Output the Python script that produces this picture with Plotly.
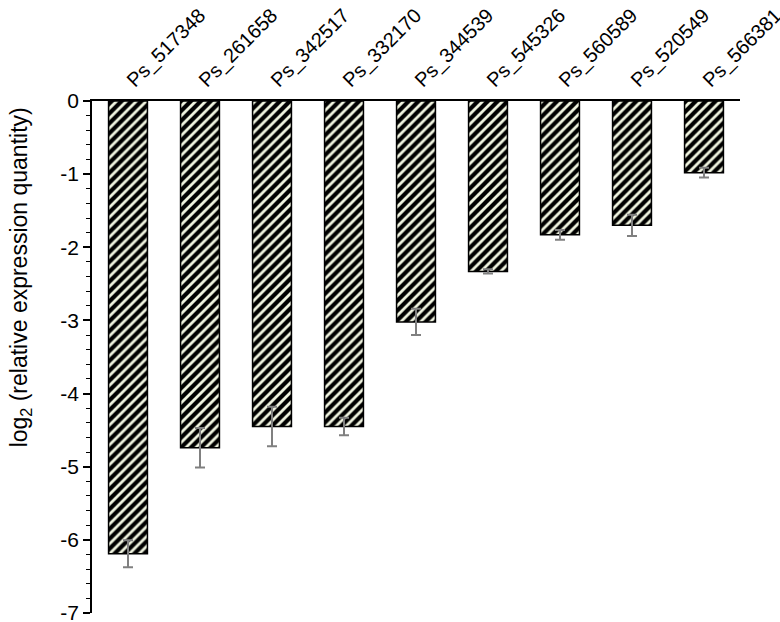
"""Down-regulated genes: log2 relative expression, hatched bars hanging from zero."""

import plotly.graph_objects as go

genes = ["Ps_517348", "Ps_261658", "Ps_342517", "Ps_332170", "Ps_344539",
         "Ps_545326", "Ps_560589", "Ps_520549", "Ps_566381"]
log2_rq = [-6.19, -4.74, -4.45, -4.45, -3.02, -2.33, -1.83, -1.70, -0.98]
err = [0.185, 0.27, 0.27, 0.12, 0.18, 0.03, 0.066, 0.146, 0.066]

y_ticks = [0, -1, -2, -3, -4, -5, -6, -7]
y_tick_labels = ["0", "-1", "-2", "-3", "-4", "-5", "-6", "-7"]

font = "Liberation Sans, Arial, sans-serif"

fig = go.Figure()

fig.add_trace(
    go.Bar(
        x=genes,
        y=log2_rq,
        marker=dict(
            color="#f0f4e0",
            line=dict(color="black", width=1.5),
            pattern=dict(shape="/", fgcolor="black", bgcolor="#f0f4e0",
                         size=7, solidity=0.6, fgopacity=1),
        ),
        error_y=dict(type="data", array=err, visible=True,
                     color="#808080", thickness=2, width=5),
        showlegend=False,
    )
)

fig.update_layout(
    width=780,
    height=622,
    plot_bgcolor="white",
    paper_bgcolor="white",
    bargap=0.46,
    margin=dict(l=92, r=40, t=101, b=9, autoexpand=False),
    font=dict(family=font, size=21, color="black"),
)

fig.update_xaxes(
    side="top",
    tickangle=-45,
    automargin=False,
    ticklabeloverflow="allow",
    showline=True,
    linecolor="black",
    linewidth=1.5,
    ticks="",
    showgrid=False,
    tickfont=dict(size=20),
)

fig.update_yaxes(
    range=[-7, 0],
    automargin=False,
    ticklabeloverflow="allow",
    tickmode="array",
    tickvals=y_ticks,
    ticktext=y_tick_labels,
    showline=True,
    linecolor="black",
    linewidth=1.5,
    ticks="outside",
    ticklen=7,
    tickwidth=1.5,
    tickcolor="black",
    tickfont=dict(size=21),
    minor=dict(dtick=0.2, ticks="outside", ticklen=4, tickcolor="black", tickwidth=1),
    showgrid=False,
    zeroline=False,
)

# axis title sits above the plot centre in the original, so place it by hand
fig.add_annotation(
    text="log<sub>2</sub> (relative expression quantity)",
    xref="paper", yref="paper",
    x=-0.11, y=0.655,
    xanchor="center", yanchor="middle",
    textangle=-90,
    showarrow=False,
    font=dict(size=23),
)

# page body has a default 8px margin; drop it so the figure sits at 0,0
fig.write_html(
    "out.html",
    config={"displayModeBar": False},
    post_script="document.body.style.margin='0';",
)
